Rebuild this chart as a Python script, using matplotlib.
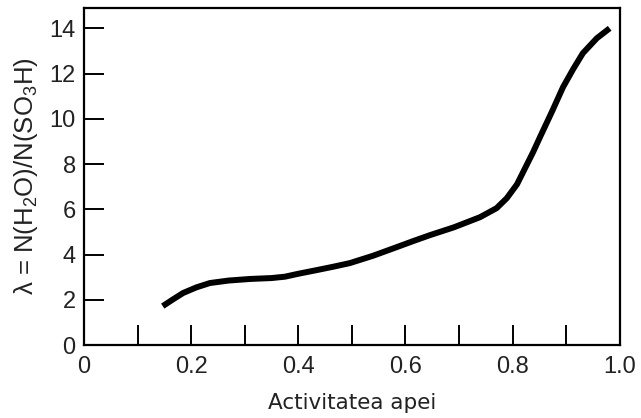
import matplotlib
matplotlib.use("Agg")
import matplotlib.pyplot as plt
import numpy as np

# water activity vs lambda
activity = [0.147, 0.165, 0.185, 0.21, 0.235, 0.27, 0.31, 0.35, 0.375, 0.40,
            0.434, 0.465, 0.496, 0.54, 0.584, 0.615, 0.646, 0.69, 0.739, 0.77,
            0.789, 0.808, 0.838, 0.851, 0.873, 0.894, 0.913, 0.931, 0.957, 0.981]
lam = [1.72, 2.0, 2.30, 2.55, 2.74, 2.85, 2.92, 2.96, 3.02, 3.15,
       3.31, 3.46, 3.62, 3.95, 4.33, 4.6, 4.86, 5.2, 5.65, 6.05,
       6.49, 7.1, 8.52, 9.19, 10.3, 11.4, 12.2, 12.9, 13.56, 14.0]

x_major = [0, 0.2, 0.4, 0.6, 0.8, 1.0]
x_labels = ["0", "0.2", "0.4", "0.6", "0.8", "1.0"]
x_minor = [0.1, 0.3, 0.5, 0.7, 0.9]
y_major = [0, 2, 4, 6, 8, 10, 12, 14]

plt.rcParams["mathtext.fontset"] = "custom"
plt.rcParams["mathtext.rm"] = "Liberation Sans"
plt.rcParams["mathtext.it"] = "Liberation Sans:italic"

fig = plt.figure(figsize=(6.41, 4.18), dpi=100)
ax = fig.add_axes([0.131, 0.1746, 0.836, 0.8064])

ax.plot(activity, lam, color="black", linewidth=4.3, solid_capstyle="butt",
        solid_joinstyle="round")

ax.set_xlim(0, 1.0)
ax.set_ylim(0, 14.9)

ax.set_xticks(x_major)
ax.set_xticklabels(x_labels)
ax.set_xticks(x_minor, minor=True)
ax.set_yticks(y_major)

ax.tick_params(axis="x", which="both", direction="in", length=14.4, width=1.4, pad=8)
ax.tick_params(axis="y", which="major", direction="in", length=14.4, width=1.4, pad=6)
for lbl in ax.get_xticklabels() + ax.get_yticklabels():
    lbl.set_family("Liberation Sans")
    lbl.set_fontsize(17)
    lbl.set_color("#222222")

for s in ax.spines.values():
    s.set_linewidth(1.6)

ax.set_xlabel("Activitatea apei", fontsize=15.5, family="DejaVu Sans",
              color="#222222", labelpad=11)
ax.set_ylabel("λ = N(H$_2$O)/N(SO$_3$H)", fontsize=18.5, family="Liberation Sans",
              color="#222222", labelpad=7)

fig.savefig("out.png", dpi=100)
